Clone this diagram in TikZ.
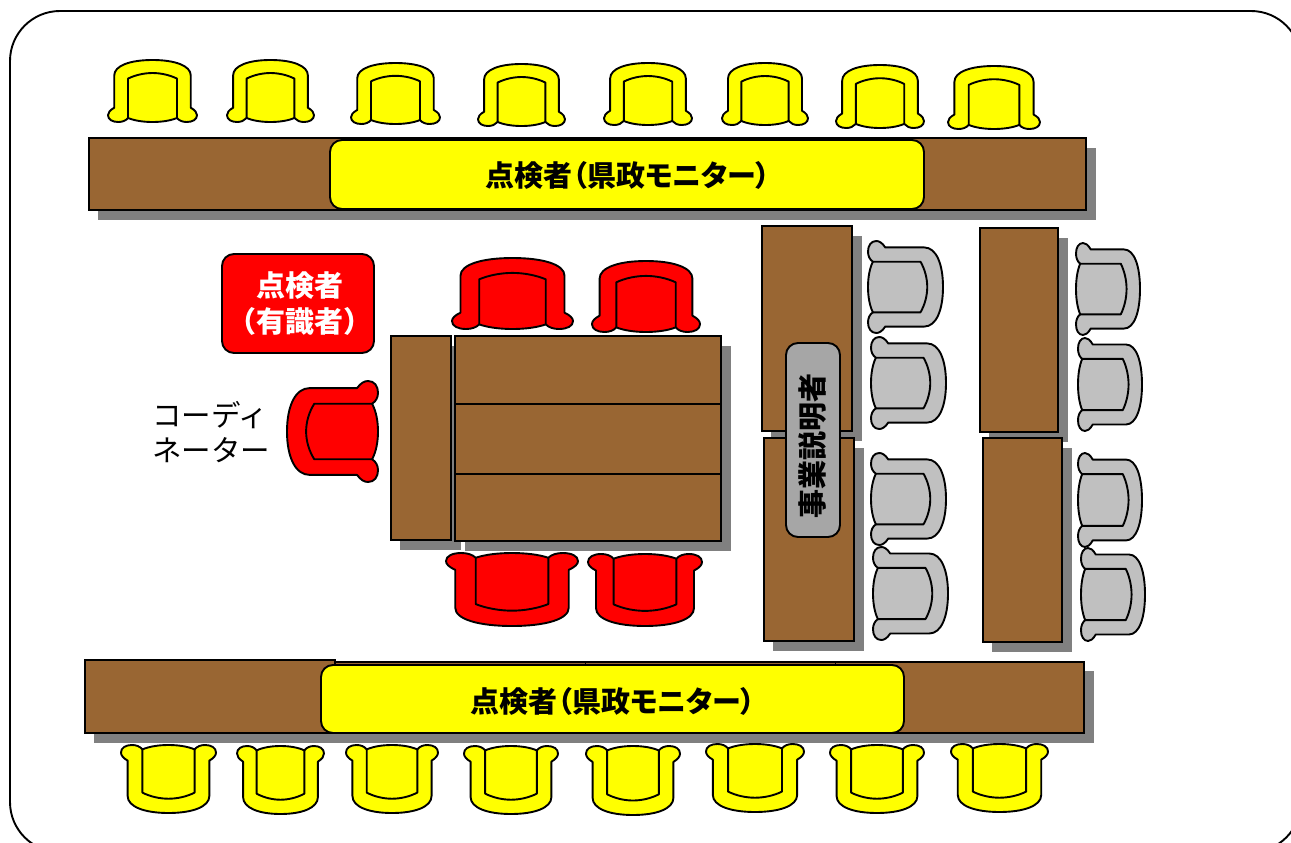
\documentclass[tikz,border=0pt]{standalone}
\usepackage{fontspec}
\setmainfont{Noto Sans CJK JP}
\newfontfamily\paltfont{Noto Sans CJK JP}[RawFeature=+palt]
\definecolor{woodc}{RGB}{153,102,51}
\definecolor{shadowc}{RGB}{128,128,128}
\definecolor{chairgray}{RGB}{192,192,192}
\definecolor{pillgray}{RGB}{166,166,166}
\definecolor{seatyellow}{RGB}{255,255,0}
\definecolor{seatred}{RGB}{255,0,0}
\tikzset{
  woodbox/.style={draw=black,line width=1.9pt,fill=woodc},
  pill/.style={draw=black,line width=1.9pt,rounded corners=12pt},
  chairline/.style={draw=black,line width=1.9pt,line join=round},
  label/.style={font=\fontsize{29}{36}\selectfont,inner sep=0pt,align=center},
}
\newcommand{\chairshape}[1]{%
  \path[chairline,fill=#1] (-0.86,0.5) .. controls (-0.86,0.82) and (-0.5,1) .. (0,1)
    .. controls (0.5,1) and (0.86,0.82) .. (0.86,0.5) -- (0.86,-0.54)
    .. controls (0.96,-0.62) and (1,-0.7) .. (1,-0.78)
    .. controls (1,-0.92) and (0.9,-1) .. (0.77,-1)
    .. controls (0.68,-1) and (0.6,-0.96) .. (0.55,-0.87)
    .. controls (0.4,-0.96) and (0.2,-1) .. (0,-1)
    .. controls (-0.2,-1) and (-0.4,-0.96) .. (-0.55,-0.87)
    .. controls (-0.6,-0.96) and (-0.68,-1) .. (-0.77,-1)
    .. controls (-0.9,-1) and (-1,-0.92) .. (-1,-0.78)
    .. controls (-1,-0.7) and (-0.96,-0.62) .. (-0.86,-0.54) -- cycle;
  \path[chairline] (-0.55,-0.87) -- (-0.55,0.4)
    .. controls (-0.38,0.52) and (-0.18,0.58) .. (0,0.58)
    .. controls (0.18,0.58) and (0.38,0.52) .. (0.55,0.4) -- (0.55,-0.87);%
}
\newcommand{\chairup}[5]{\begin{scope}[shift={({(#1+#3)/2},{(#2+#4)/2})},xscale={(#3-#1)/2},yscale={-(#4-#2)/2}]\chairshape{#5}\end{scope}}
\newcommand{\chairdown}[5]{\begin{scope}[shift={({(#1+#3)/2},{(#2+#4)/2})},xscale={(#3-#1)/2},yscale={(#4-#2)/2}]\chairshape{#5}\end{scope}}
\newcommand{\chairleft}[5]{\begin{scope}[shift={({(#1+#3)/2},{(#2+#4)/2})},xscale={(#3-#1)/2},yscale={(#4-#2)/2},rotate=-90]\chairshape{#5}\end{scope}}
\newcommand{\chairright}[5]{\begin{scope}[shift={({(#1+#3)/2},{(#2+#4)/2})},xscale={(#3-#1)/2},yscale={(#4-#2)/2},rotate=90]\chairshape{#5}\end{scope}}
\newcommand{\woodtable}[4]{%
  \fill[shadowc] (#1+9,#2+10) rectangle (#3+10,#4+10);
  \path[woodbox] (#1,#2) rectangle (#3,#4);}
\begin{document}
\begin{tikzpicture}[x=1pt,y=-1pt]
\useasboundingbox (0,0) rectangle (1291,843);
\fill[white] (0,0) rectangle (1291,843);
\draw[line width=1.9pt,rounded corners=50pt] (10,11) rectangle (1301,852);
% top bench
\woodtable{89}{138}{1086}{210}
\path[pill,fill=seatyellow] (330,140) rectangle (924,209);
\node[label] (monitorA) at (628,175) {\paltfont\bfseries 点検者（県政モニター）};
\foreach \a/\b/\c/\d in {108/60/197/122,227/60/314/122,351/63/440/124,478/64/565/126,604/63/692/125,722/63/808/125,836/65/924/128,948/66/1040/129}
  {\chairup{\a}{\b}{\c}{\d}{seatyellow}}
% centre
\woodtable{391}{336}{451}{540}
\fill[shadowc] (465,346) rectangle (731,551);
\path[woodbox] (455,336) rectangle (721,404);
\path[woodbox] (455,404) rectangle (721,474);
\path[woodbox] (455,474) rectangle (721,541);
\foreach \a/\b/\c/\d in {452/258/573/329,592/261/700/332}
  {\chairup{\a}{\b}{\c}{\d}{seatred}}
\foreach \a/\b/\c/\d in {446/553/578/626,588/554/702/626}
  {\chairdown{\a}{\b}{\c}{\d}{seatred}}
\chairleft{287}{381}{378}{482}{seatred}
\path[pill,fill=seatred] (222,254) rectangle (374,353);
\node[label,text=white] (expert) at (300,304) {\bfseries 点検者\\\bfseries （有識者）};
\node[label,anchor=west,align=left,font=\fontsize{29.5}{35}\selectfont] (coord) at (152,432) {コーディ\\ネーター};
% right tables
\woodtable{762}{226}{852}{431}
\woodtable{764}{438}{854}{641}
\woodtable{980}{228}{1058}{432}
\woodtable{983}{438}{1062}{642}
\path[pill,fill=pillgray] (786,343) rectangle (840,537);
\node[label,rotate=90] (staff) at (813,446) {\bfseries 事業説明者};
\foreach \a/\b/\c/\d in {868/241/943/333,871/337/946/429,871/453/946/545,873/547/948/640,1076/243/1140/335,1078/338/1142/431,1078/453/1142/547,1081/548/1145/641}
  {\chairright{\a}{\b}{\c}{\d}{chairgray}}
% bottom bench
\fill[shadowc] (94,671) rectangle (1094,743);
\path[woodbox] (335,662) rectangle (1084,733);
\path[woodbox] (85,660) rectangle (335,733);
\draw[line width=1pt] (585,662) -- (585,666) (835,662) -- (835,666);
\path[pill,fill=seatyellow] (321,665) rectangle (904,733);
\node[label] (monitorB) at (613,701) {\paltfont\bfseries 点検者（県政モニター）};
\foreach \a/\b/\c/\d in {121/745/216/813,237/746/324/814,346/745/438/813,464/746/558/814,586/746/680/815,706/744/804/812,830/745/924/813,951/744/1048/812}
  {\chairdown{\a}{\b}{\c}{\d}{seatyellow}}
\end{tikzpicture}
\end{document}
